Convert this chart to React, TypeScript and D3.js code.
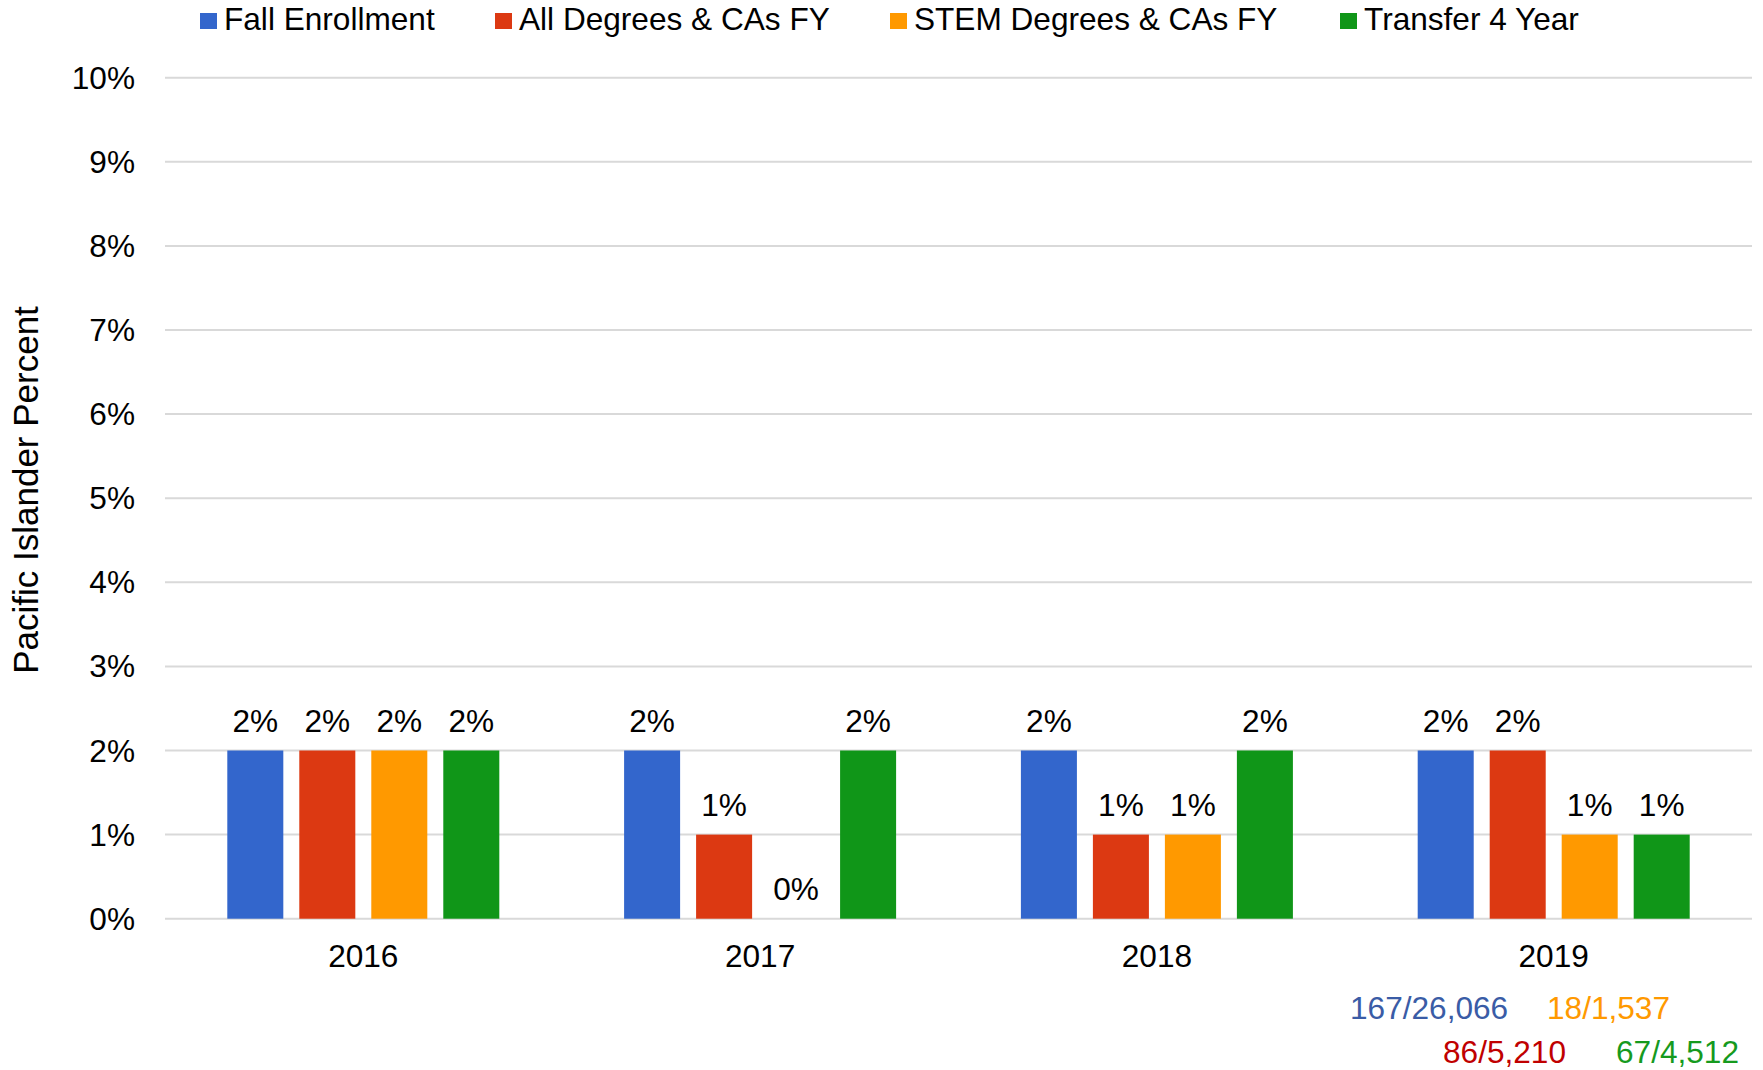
import React from "react";
import * as d3 from "d3";

const years = ["2016", "2017", "2018", "2019"];
const seriesNames = ["Fall Enrollment", "All Degrees & CAs FY", "STEM Degrees & CAs FY", "Transfer 4 Year"];
const fallEnrollment = [2, 2, 2, 2];
const allDegrees = [2, 1, 1, 2];
const stemDegrees = [2, 0, 1, 1];
const transfer4Year = [2, 2, 2, 1];
const yTicks = [0, 1, 2, 3, 4, 5, 6, 7, 8, 9, 10];
const notes = ["167/26,066", "18/1,537", "86/5,210", "67/4,512"];
const yTitle = "Pacific Islander Percent";

const seriesValues = [fallEnrollment, allDegrees, stemDegrees, transfer4Year];
const colors = ["#3366cc", "#dc3912", "#ff9900", "#109618"];
const noteColors = ["#3a5ca6", "#ff9900", "#c00000", "#169a1e"];

const W = 1763;
const H = 1070;
const left = 165;
const right = 1752;
const top = 77.7;
const bottom = 918.7;
const FONT = "'Liberation Sans', Arial, sans-serif";
const FS = 31.6;

const legendX = [200, 495, 890, 1340];
const noteLayout = [
  { x: 1350, y: 1019 },
  { x: 1547, y: 1019 },
  { x: 1443, y: 1063 },
  { x: 1616, y: 1063 },
];

export default function App() {
  const x0 = d3
    .scaleBand<string>()
    .domain(years)
    .range([left, right])
    .paddingInner(0.3145)
    .paddingOuter(0.157);
  const x1 = d3
    .scaleBand<number>()
    .domain([0, 1, 2, 3])
    .range([0, x0.bandwidth()])
    .paddingInner(0.222)
    .paddingOuter(0);
  const y = d3.scaleLinear().domain([0, 10]).range([bottom, top]);

  return (
    <svg
      width={W}
      height={H}
      style={{ position: "absolute", left: 0, top: 0, background: "#fff" }}
      fontFamily={FONT}
    >
      {yTicks.map((t) => (
        <g key={t}>
          <line x1={left} x2={right} y1={y(t)} y2={y(t)} stroke="#d9d9d9" strokeWidth={2} />
          <text x={135} y={y(t) + 11} textAnchor="end" fontSize={FS} fill="#000">
            {t}%
          </text>
        </g>
      ))}

      {years.map((yr, i) => (
        <g key={yr} transform={`translate(${x0(yr)},0)`}>
          {seriesValues.map((vals, s) => {
            const v = vals[i];
            const bx = x1(s) as number;
            return (
              <g key={s}>
                <rect
                  x={bx}
                  y={y(v)}
                  width={x1.bandwidth()}
                  height={y(0) - y(v)}
                  fill={colors[s]}
                />
                <text
                  x={bx + x1.bandwidth() / 2}
                  y={y(v) - 19}
                  textAnchor="middle"
                  fontSize={FS}
                  fill="#000"
                >
                  {v}%
                </text>
              </g>
            );
          })}
          <text
            x={x0.bandwidth() / 2}
            y={967}
            textAnchor="middle"
            fontSize={FS}
            fill="#000"
          >
            {yr}
          </text>
        </g>
      ))}

      <text
        transform={`translate(38,490) rotate(-90)`}
        textAnchor="middle"
        fontSize={35}
        fill="#000"
      >
        {yTitle}
      </text>

      {seriesNames.map((name, s) => (
        <g key={name}>
          <rect x={legendX[s]} y={13} width={17} height={16} fill={colors[s]} />
          <text x={legendX[s] + 24} y={30} fontSize={FS} fill="#000">
            {name}
          </text>
        </g>
      ))}

      {notes.map((n, k) => (
        <text
          key={n}
          x={noteLayout[k].x}
          y={noteLayout[k].y}
          fontSize={FS}
          fill={noteColors[k]}
        >
          {n}
        </text>
      ))}
    </svg>
  );
}
